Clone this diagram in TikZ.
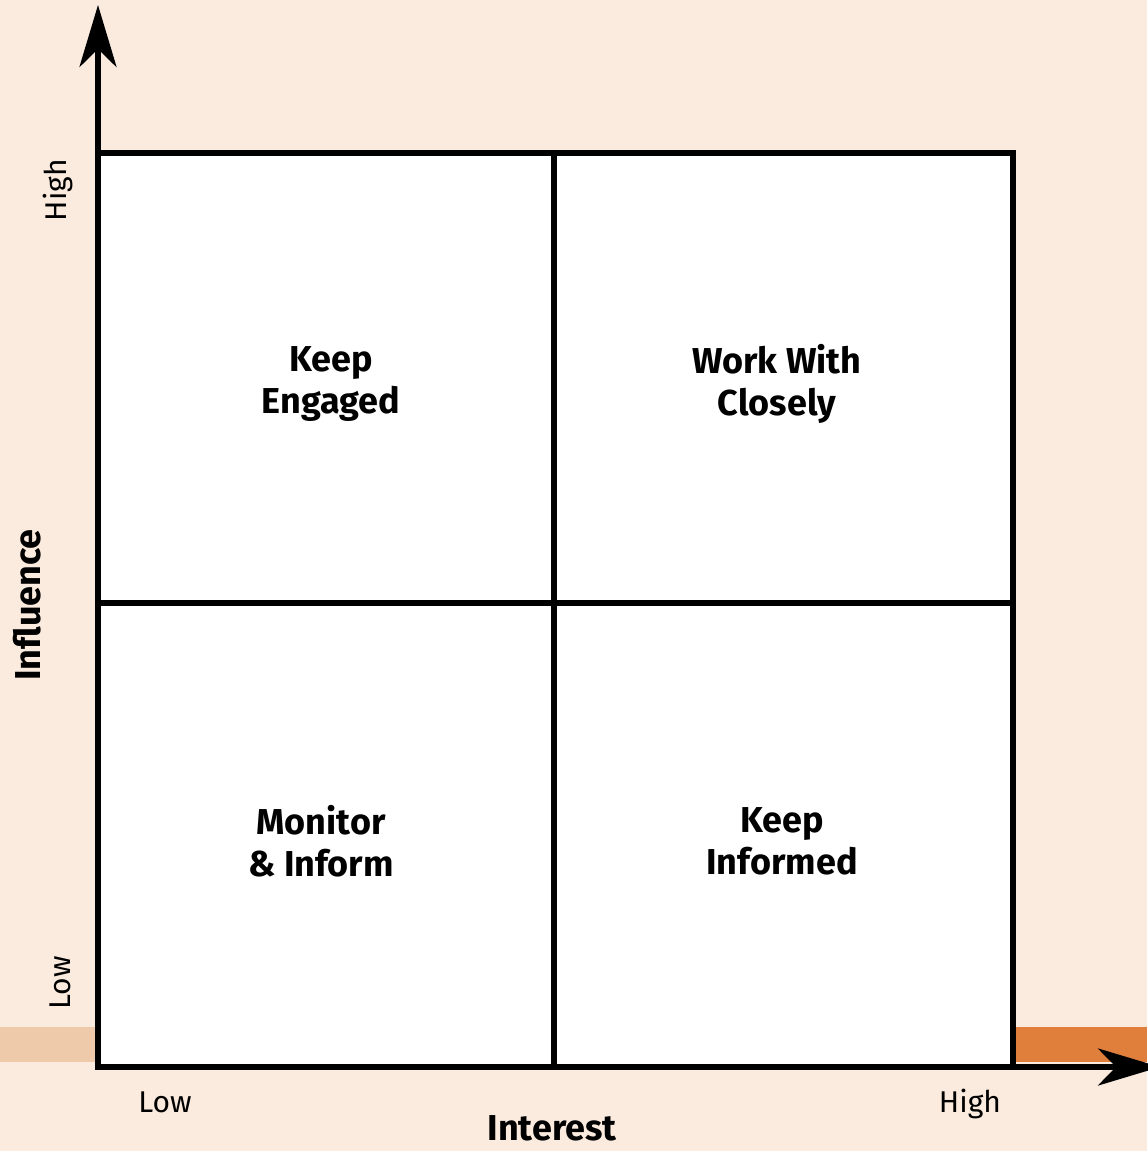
\documentclass[tikz,border=0pt]{standalone}
\usepackage{fontspec}
\setmainfont{Fira Sans}
\usetikzlibrary{arrows.meta}
\definecolor{paper}{HTML}{FBEBDF}
\definecolor{bandtan}{HTML}{EECAAA}
\definecolor{bandorange}{HTML}{E07F3C}
\tikzset{
	axis/.style={line width=2.8pt, -{Stealth[length=31pt, width=18.5pt, inset=9pt]}},
	gridline/.style={line width=2.8pt},
	quadlabel/.style={font=\fontsize{18}{21}\selectfont\bfseries, align=center},
	ticklabel/.style={font=\fontsize{15}{18}\selectfont},
	axislabel/.style={font=\fontsize{18}{21}\selectfont\bfseries}
}
\begin{document}
\begin{tikzpicture}[x=0.5pt,y=-0.5pt]
				\useasboundingbox (0,0) rectangle (1147,1151);
				\fill[paper] (0,0) rectangle (1147,1151);
				\fill[bandtan] (0,1027) rectangle (98,1062);
				\fill[bandorange] (1013,1027) rectangle (1147,1062);
				\coordinate (origin) at (98,1067);
				\coordinate (ytip) at (98,5);
				\coordinate (xtip) at (1160,1067);
				\fill[white] (98,153) rectangle (1013,1067);
				\draw[gridline] (98,153) rectangle (1013,1067);
				\draw[gridline] (554,153) -- (554,1067);
				\draw[gridline] (98,603) -- (1013,603);
				\draw[axis] (origin) -- (ytip);
				\draw[axis] (origin) -- (xtip);
				\node[quadlabel] (engaged) at (331,384) {Keep\\Engaged};
				\node[quadlabel] (closely) at (777,384) {Work With\\Closely};
				\node[quadlabel] (monitor) at (321,841) {Monitor\\\& Inform};
				\node[quadlabel] (informed) at (782,841) {Keep\\Informed};
				\node[ticklabel, rotate=90] (yhigh) at (58,190) {High};
				\node[ticklabel, rotate=90] (ylow) at (60,983) {Low};
				\node[ticklabel, anchor=base] (xlow) at (165,1112) {Low};
				\node[ticklabel, anchor=base] (xhigh) at (970,1112) {High};
				\node[axislabel] (influence) at (27,605) [rotate=90] {Influence};
				\node[axislabel, anchor=base, inner sep=0pt] (interest) at (552,1140) {Interest};
			\end{tikzpicture}
\end{document}
